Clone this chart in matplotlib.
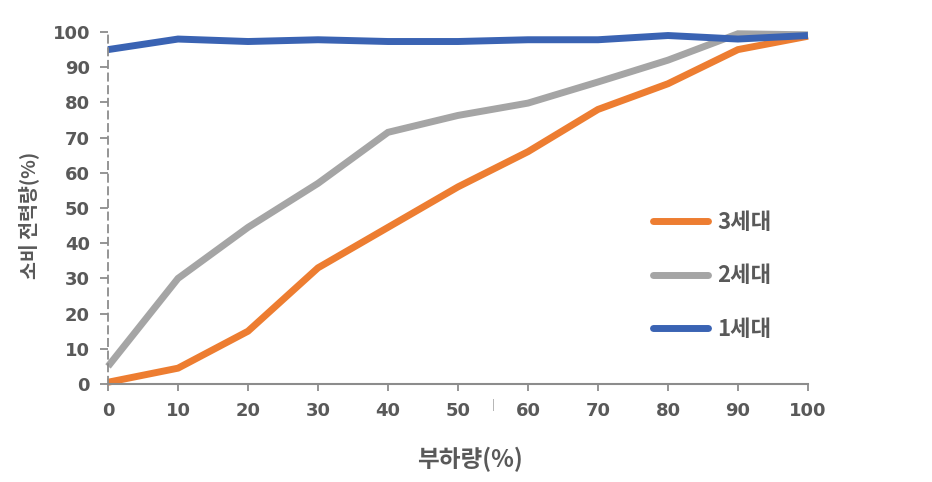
import matplotlib.pyplot as plt
from matplotlib.ticker import MultipleLocator

plt.rcParams['font.family'] = ['Noto Sans CJK KR', 'DejaVu Sans']

# 부하량 (%)
load = [0, 10, 20, 30, 40, 50, 60, 70, 80, 90, 100]
# 세대별 소비 전력량 (%)
gen3 = [0.5, 4.5, 15, 33, 44.5, 56, 66, 78, 85.3, 95, 98.8]
gen2 = [5, 30, 44.5, 57, 71.5, 76.3, 79.8, 85.8, 92, 99.5, 99.2]
gen1 = [95, 98, 97.3, 97.8, 97.3, 97.3, 97.8, 97.8, 99, 98, 99]

series = [("3세대", gen3, "#ED7D31"),
          ("2세대", gen2, "#A5A5A5"),
          ("1세대", gen1, "#3A63B3")]

text_color = "#595959"
axis_color = "#8C8C8C"

fig = plt.figure(figsize=(9.32, 4.82), dpi=100)
ax = fig.add_axes([0.1159, 0.2033, 0.751, 0.7303])

for name, vals, color in series:
    ax.plot(load, vals, color=color, lw=5, label=name,
            solid_capstyle='butt', solid_joinstyle='miter', clip_on=False)

ax.set_xlim(0, 100)
ax.set_ylim(0, 100)
ax.xaxis.set_major_locator(MultipleLocator(10))
ax.yaxis.set_major_locator(MultipleLocator(10))

for s in ['top', 'right']:
    ax.spines[s].set_visible(False)
ax.spines['bottom'].set_color(axis_color)
ax.spines['bottom'].set_linewidth(1.5)
ax.spines['left'].set_color(axis_color)
ax.spines['left'].set_linewidth(1.3)
ax.spines['left'].set_linestyle((0, (4, 3)))

ax.tick_params(axis='y', length=6, width=1.3, color=axis_color, pad=7)
ax.tick_params(axis='x', length=5, width=1.3, color=axis_color, pad=8)
for lab in ax.get_xticklabels() + ax.get_yticklabels():
    lab.set_fontsize(13)
    lab.set_fontweight('bold')
    lab.set_color(text_color)
    lab.set_family(['DejaVu Sans'])

ax.set_xlabel("부하량(%)", fontsize=17, fontweight='bold', color=text_color)
ax.xaxis.set_label_coords(0.517, -0.178)
ax.set_ylabel("소비 전력량(%)", fontsize=14, fontweight='bold', color=text_color)
ax.yaxis.set_label_coords(-0.098, 0.48)

# 축 아래 작은 눈금 흔적
ax.text(0.551, -0.06, "|", transform=ax.transAxes, fontsize=7,
        color=axis_color, ha='center', va='center')

leg = ax.legend(loc='center left', bbox_to_anchor=(0.778, 0.307), frameon=False,
                fontsize=16, handlelength=2.5, handletextpad=0.4,
                labelspacing=1.37, borderpad=0, borderaxespad=0)
for t in leg.get_texts():
    t.set_color(text_color)
    t.set_fontweight('bold')
for h in leg.get_lines():
    h.set_solid_capstyle('round')

fig.savefig("out.png", dpi=100)
